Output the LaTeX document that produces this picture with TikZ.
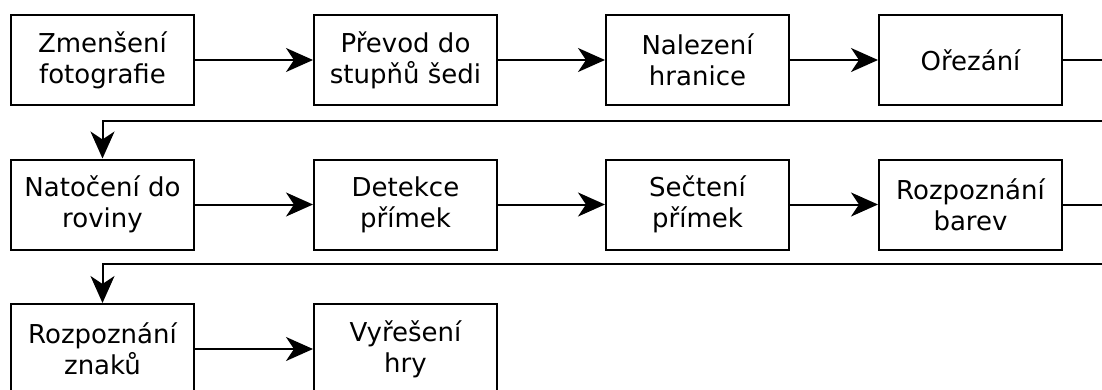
\documentclass[tikz,border=0pt]{standalone}
\usepackage{fontspec}
\setmainfont{DejaVu Sans}
\usetikzlibrary{arrows.meta}

\begin{document}
\begin{tikzpicture}[x=1pt, y=-1pt,
    krok/.style={draw, line width=2pt, minimum width=183pt, minimum height=90pt,
        align=center, inner sep=0pt, font=\fontsize{26pt}{31pt}\selectfont},
    tok/.style={-{Stealth[length=27pt, width=24pt, inset=8pt]}, line width=2pt}]
\useasboundingbox (0,0) rectangle (1102,389);
% Row 1
\node[krok] (zmenseni) at (102.5,60) {Zmenšení\\fotografie};
\node[krok] (prevod) at (405.5,60) {Převod do\\stupňů šedi};
\node[krok] (hranice) at (697.5,60) {Nalezení\\hranice};
\node[krok] (orezani) at (970.5,60) {Ořezání};
% Row 2
\node[krok] (natoceni) at (102.5,204.5) {Natočení do\\roviny};
\node[krok] (detekce) at (405.5,204.5) {Detekce\\přímek};
\node[krok] (secteni) at (697.5,204.5) {Sečtení\\přímek};
\node[krok] (barvy) at (970.5,204.5) {Rozpoznání\\barev};
% Row 3
\node[krok] (znaky) at (102.5,349) {Rozpoznání\\znaků};
\node[krok] (reseni) at (405.5,349) {Vyřešení\\hry};
% Turns at the right edge
\coordinate (ven1) at (1120,60);
\coordinate (zpet1) at (102.5,121);
\coordinate (ven2) at (1120,204.5);
\coordinate (zpet2) at (102.5,264);
% Arrows
\foreach \a/\b in {zmenseni/prevod, prevod/hranice, hranice/orezani,
    natoceni/detekce, detekce/secteni, secteni/barvy, znaky/reseni}
    \draw[tok] (\a.east) -- (\b.west);
\draw[tok] (orezani.east) -- (ven1) |- (zpet1) -- (natoceni.north);
\draw[tok] (barvy.east) -- (ven2) |- (zpet2) -- (znaky.north);
\end{tikzpicture}
\end{document}
